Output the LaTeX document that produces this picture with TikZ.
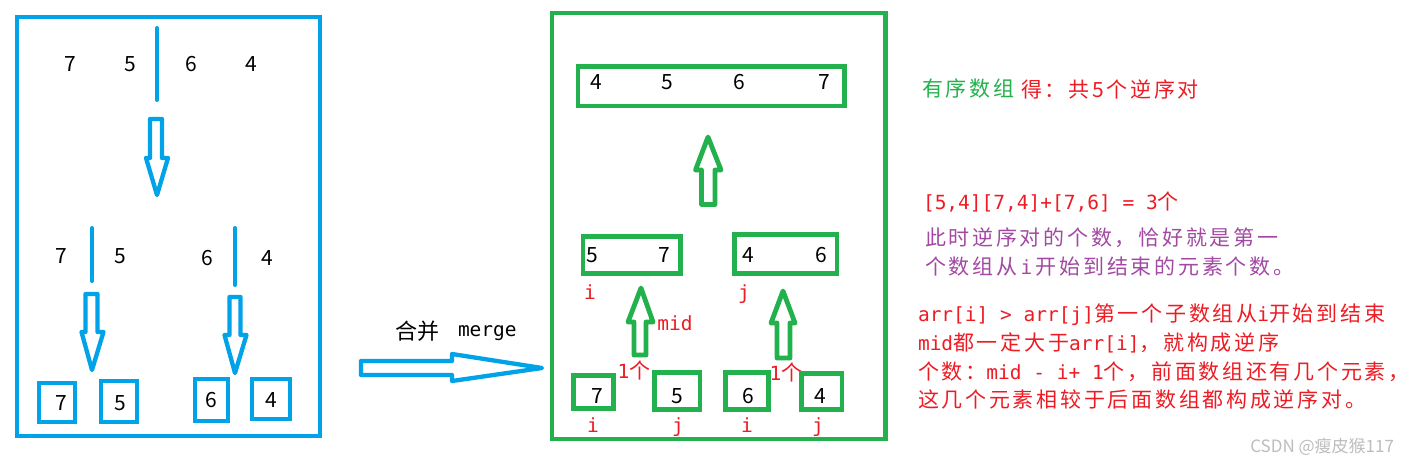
\documentclass[tikz,border=0pt]{standalone}
\usepackage{fontspec}
\setmainfont{Noto Sans CJK SC}
\setmonofont{DejaVu Sans Mono}
\newfontfamily\cjkls[LetterSpace=13]{Noto Sans CJK SC}
\usetikzlibrary{fit}
\definecolor{pblue}{HTML}{00A2E8}
\definecolor{pgreen}{HTML}{22B14C}
\definecolor{pred}{HTML}{ED1C24}
\definecolor{ppurple}{HTML}{A349A4}
\definecolor{wmgray}{HTML}{BDBDBD}
\begin{document}
\begin{tikzpicture}[x=1pt,y=-1pt,
  every node/.style={inner sep=0pt,outer sep=0pt},
  num/.style={font=\fontsize{21}{25}\selectfont},
  bframe/.style={draw=pblue,line width=4.3pt},
  gframe/.style={draw=pgreen,line width=4.8pt},
  bhollow/.style={draw=pblue,line width=4.3pt,line join=round},
  ghollow/.style={draw=pgreen,line width=4.8pt,line join=round},
  divider/.style={draw=pblue,line width=4pt,line cap=round},
  lbl/.style={text=pred,font=\fontsize{19.5}{24}\ttfamily},
  txt/.style={anchor=west,font=\cjkls\fontsize{21}{26}\selectfont},
  mono/.style={font=\fontsize{19.5}{24}\ttfamily}
]
\fill[white] (0,0) rectangle (1410,465);
\useasboundingbox (0,0) rectangle (1410,465);

% ---------------- left (blue) panel ----------------
\node[bframe,fit={(17,17)(320,436)}] (lpanel) {};
\node[num] (a7) at (70,64) {7};
\node[num] (a5) at (130,64) {5};
\node[num] (a6) at (191,64) {6};
\node[num] (a4) at (251,64) {4};
\coordinate (d1t) at (157,28);
\coordinate (d1b) at (157,100);
\draw[divider] (d1t) -- (d1b);
\draw[bhollow] (150,119) -- (162,119) -- (162,158) -- (168,158) -- (157,195)
  -- (146,158) -- (150,158) -- cycle;

\node[num] (b7) at (61,256) {7};
\node[num] (b5) at (120,256) {5};
\coordinate (d2t) at (92,228);
\coordinate (d2b) at (92,281);
\draw[divider] (d2t) -- (d2b);
\node[num] (b6) at (207,258) {6};
\node[num] (b4) at (267,258) {4};
\coordinate (d3t) at (235,228);
\coordinate (d3b) at (235,285);
\draw[divider] (d3t) -- (d3b);

\draw[bhollow] (85.5,294) -- (97.5,294) -- (97.5,332) -- (103.5,332) -- (92,370)
  -- (81.5,332) -- (85.5,332) -- cycle;
\draw[bhollow] (229.5,297) -- (240.5,297) -- (240.5,335) -- (246.5,335) -- (235,373)
  -- (224.5,335) -- (229.5,335) -- cycle;

\node[bframe,fit={(39,383)(75,422)}] (c7box) {};
\node[num] (c7) at (61,403) {7};
\node[bframe,fit={(101,381)(137,422)}] (c5box) {};
\node[num] (c5) at (120,403) {5};
\node[bframe,fit={(195,379)(228,421)}] (c6box) {};
\node[num] (c6) at (211,400) {6};
\node[bframe,fit={(252,379)(290,419)}] (c4box) {};
\node[num] (c4) at (271,400) {4};

% ---------------- merge arrow ----------------
\node[anchor=west,font=\fontsize{22}{26}\selectfont] (mergecn) at (395,331) {合并};
\node[anchor=west,mono] (mergeen) at (458,333) {merge};
\draw[bhollow] (361,361) -- (452,361) -- (452,354) -- (542,368) -- (452,381)
  -- (452,375) -- (361,375) -- cycle;

% ---------------- right (green) panel ----------------
\node[gframe,fit={(552,13)(885.5,439)}] (rpanel) {};

\node[gframe,fit={(578,66.7)(844.5,106)}] (topbox) {};
\node[num] (t4) at (596,82) {4};
\node[num] (t5) at (667,82) {5};
\node[num] (t6) at (739,82) {6};
\node[num] (t7) at (824,82) {7};

\draw[ghollow] (701.5,204.5) -- (715,204.5) -- (715,170) -- (721,170) -- (708,137)
  -- (695.5,170) -- (701.5,170) -- cycle;

\node[gframe,fit={(583,236.7)(680.5,273.3)}] (mlbox) {};
\node[num] (m5) at (592,255) {5};
\node[num] (m7) at (664,255) {7};
\node[gframe,fit={(734.7,234.7)(837,273.3)}] (mrbox) {};
\node[num] (m4) at (748,255) {4};
\node[num] (m6) at (821,255) {6};
\node[lbl,anchor=base] (mi) at (590,299) {i};
\node[lbl,anchor=base] (mj) at (744,299) {j};

\draw[ghollow] (634,355) -- (646,355) -- (646,322) -- (653,322) -- (641,288)
  -- (628,322) -- (634,322) -- cycle;
\draw[ghollow] (777,358) -- (790,358) -- (790,323) -- (795,323) -- (783,291)
  -- (771,323) -- (777,323) -- cycle;
\node[lbl] (mid) at (675,323) {mid};
\node[text=pred] (one1) at (634,370) {{\ttfamily\fontsize{19.5}{24}\selectfont 1}{\fontsize{21}{26}\selectfont 个}};
\node[text=pred] (one2) at (786,372) {{\ttfamily\fontsize{19.5}{24}\selectfont 1}{\fontsize{21}{26}\selectfont 个}};

\node[gframe,fit={(573.5,375.8)(613.5,408.2)}] (n7box) {};
\node[num] (n7) at (597,396) {7};
\node[gframe,fit={(654.7,372.5)(700,409.2)}] (n5box) {};
\node[num] (n5) at (677,396) {5};
\node[gframe,fit={(725.7,372.5)(768.3,409.2)}] (n6box) {};
\node[num] (n6) at (748,396) {6};
\node[gframe,fit={(801.7,373.3)(842,409.2)}] (n4box) {};
\node[num] (n4) at (820,396) {4};
\node[lbl,anchor=base] (ni1) at (593,432) {i};
\node[lbl,anchor=base] (nj1) at (678,432) {j};
\node[lbl,anchor=base] (ni2) at (747,432) {i};
\node[lbl,anchor=base] (nj2) at (818,432) {j};

% ---------------- explanation text ----------------
\node[txt,text=pgreen] (l1a) at (922,89) {有序数组};
\node[txt,text=pred] (l1b) at (1021,89) {得：共5个逆序对};
\node[txt,text=pred] (l2) at (923,202) {{\ttfamily\fontsize{19.5}{24}\selectfont [5,4][7,4]+[7,6] = 3}个};
\node[txt,text=ppurple] (l3) at (925,238) {此时逆序对的个数，恰好就是第一};
\node[txt,text=ppurple] (l4) at (925,267) {个数组从\,{\ttfamily\fontsize{19.5}{24}\selectfont i}\,开始到结束的元素个数。};
\node[txt,text=pred] (l5) at (918,315) {{\ttfamily\fontsize{19.5}{24}\selectfont arr[i] > arr[j]}第一个子数组从{\ttfamily\fontsize{19.5}{24}\selectfont i}开始到结束};
\node[txt,text=pred] (l6) at (918,343) {{\ttfamily\fontsize{19.5}{24}\selectfont mid}都一定大于{\ttfamily\fontsize{19.5}{24}\selectfont arr[i]}，就构成逆序};
\node[txt,text=pred] (l7) at (918,372) {个数：{\ttfamily\fontsize{19.5}{24}\selectfont mid - i+ 1}个，前面数组还有几个元素，};
\node[txt,text=pred] (l8) at (918,400) {这几个元素相较于后面数组都构成逆序对。};
\node[anchor=east,text=wmgray,font=\fontsize{17}{20}\selectfont] (wm) at (1394,447) {CSDN @瘦皮猴117};
\end{tikzpicture}
\end{document}
